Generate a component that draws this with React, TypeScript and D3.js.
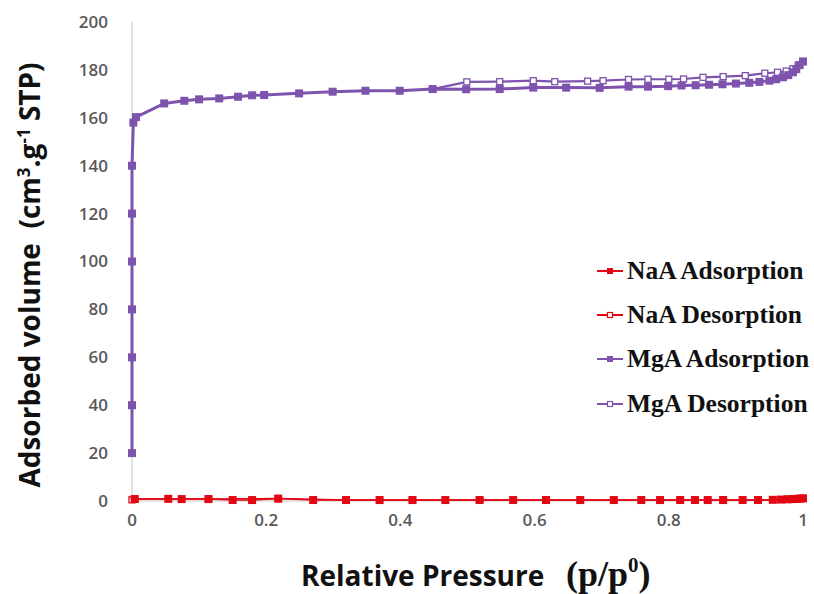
import React from "react";
import * as d3 from "d3";

// ---- data ----
const mgaAdsX = [0, 0, 0, 0, 0, 0, 0, 0.002, 0.006, 0.048, 0.078, 0.1, 0.13, 0.158, 0.179, 0.197, 0.249, 0.299, 0.348, 0.399, 0.448, 0.498, 0.548, 0.598, 0.647, 0.697, 0.74, 0.769, 0.799, 0.819, 0.84, 0.86, 0.88, 0.9, 0.92, 0.935, 0.95, 0.96, 0.97, 0.978, 0.985, 0.99, 0.995, 1.0];
const mgaAdsY = [20, 40, 60, 80, 100, 120, 140, 158, 160.3, 166, 167.1, 167.7, 168.1, 168.8, 169.4, 169.5, 170.2, 170.9, 171.3, 171.3, 172, 171.9, 172, 172.6, 172.6, 172.5, 173, 173, 173.2, 173.5, 173.6, 173.8, 174, 174.3, 174.6, 175, 175.5, 176.1, 176.9, 177.8, 179, 180.3, 182, 183.5];

const mgaDesX = [1.0, 0.993, 0.985, 0.975, 0.962, 0.943, 0.914, 0.881, 0.851, 0.822, 0.8, 0.769, 0.74, 0.702, 0.679, 0.63, 0.598, 0.548, 0.499, 0.448];
const mgaDesY = [183.5, 182, 180.5, 179.5, 179, 178.6, 177.6, 177.2, 176.9, 176.2, 176.1, 176.1, 176, 175.5, 175.3, 175.1, 175.5, 175.1, 175, 172];

const naaAdsX = [0.004, 0.054, 0.074, 0.114, 0.15, 0.179, 0.218, 0.27, 0.319, 0.369, 0.418, 0.467, 0.518, 0.568, 0.617, 0.668, 0.718, 0.759, 0.787, 0.817, 0.839, 0.858, 0.881, 0.91, 0.933, 0.955, 0.967, 0.977, 0.985, 0.991, 0.996, 1.0];
const naaAdsY = [0.8, 0.9, 0.8, 0.8, 0.4, 0.4, 1.0, 0.4, 0.4, 0.4, 0.4, 0.4, 0.4, 0.4, 0.4, 0.4, 0.4, 0.4, 0.4, 0.4, 0.4, 0.4, 0.4, 0.4, 0.4, 0.5, 0.6, 0.7, 0.8, 0.9, 1.0, 1.1];

const naaDesX = [1.0, 0.991, 0.977, 0.933, 0.881, 0.817, 0.718, 0.617, 0.518, 0.418, 0.319, 0.218, 0.114, 0.004, 0];
const naaDesY = [1.1, 0.9, 0.7, 0.4, 0.4, 0.4, 0.4, 0.4, 0.4, 0.4, 0.4, 1.0, 0.8, 0.8, 0.5];

const xTicks = [0, 0.2, 0.4, 0.6, 0.8, 1];
const xTickLabels = ["0", "0.2", "0.4", "0.6", "0.8", "1"];
const yTicks = [0, 20, 40, 60, 80, 100, 120, 140, 160, 180, 200];

const legendLabels = ["NaA Adsorption", "NaA Desorption", "MgA Adsorption", "MgA Desorption"];

const RED = "#e30613";
const PURPLE = "#7d53ae";

export default function App() {
  const x = d3.scaleLinear().domain([0, 1]).range([132, 803]);
  const y = d3.scaleLinear().domain([0, 200]).range([501, 22]);

  const line = d3
    .line<[number, number]>()
    .x((d) => x(d[0]))
    .y((d) => y(d[1]));

  const zip = (xs: number[], ys: number[]) => xs.map((v, i) => [v, ys[i]] as [number, number]);

  const naaAds = zip(naaAdsX, naaAdsY);
  const naaDes = zip(naaDesX, naaDesY);
  const mgaAds = zip(mgaAdsX, mgaAdsY);
  const mgaDes = zip(mgaDesX, mgaDesY);

  const sqFilled = (pts: [number, number][], color: string, s: number, key: string) =>
    pts.map((p, i) => (
      <rect key={key + i} x={x(p[0]) - s / 2} y={y(p[1]) - s / 2} width={s} height={s} fill={color} />
    ));
  const sqOpen = (pts: [number, number][], color: string, s: number, key: string) =>
    pts.map((p, i) => (
      <rect
        key={key + i}
        x={x(p[0]) - s / 2}
        y={y(p[1]) - s / 2}
        width={s}
        height={s}
        fill="#fff"
        stroke={color}
        strokeWidth={1.3}
      />
    ));

  const legendY = [271, 315, 359, 404];

  return (
    <svg
      width={814}
      height={594}
      style={{ position: "absolute", left: 0, top: 0, background: "#fff" }}
      xmlns="http://www.w3.org/2000/svg"
    >
      <rect width={814} height={594} fill="#fff" />
      {/* axes */}
      <line x1={132} x2={132} y1={y(200)} y2={y(0)} stroke="#d9d9d9" strokeWidth={1.5} />
      <line x1={132} x2={803} y1={y(0)} y2={y(0)} stroke="#d9d9d9" strokeWidth={1.5} />

      {/* y tick labels */}
      {yTicks.map((t) => (
        <text
          key={"yt" + t}
          x={108}
          y={y(t)}
          dy="0.35em"
          textAnchor="end"
          fontFamily="'Open Sans', sans-serif"
          fontWeight={600}
          fontSize={17}
          fill="#595959"
        >
          {t}
        </text>
      ))}
      {/* x tick labels */}
      {xTicks.map((t, i) => (
        <text
          key={"xt" + t}
          x={x(t)}
          y={520}
          dy="0.35em"
          textAnchor="middle"
          fontFamily="'Open Sans', sans-serif"
          fontWeight={600}
          fontSize={17}
          fill="#595959"
        >
          {xTickLabels[i]}
        </text>
      ))}

      {/* series */}
      <path d={line(naaDes) || ""} fill="none" stroke={RED} strokeWidth={1.5} />
      {sqOpen(naaDes, RED, 6, "nd")}
      <path d={line(naaAds) || ""} fill="none" stroke={RED} strokeWidth={1.5} />
      {sqFilled(naaAds, RED, 8, "na")}

      <path d={line(mgaDes) || ""} fill="none" stroke={PURPLE} strokeWidth={2.2} />
      {sqOpen(mgaDes, PURPLE, 6, "md")}
      <path d={line(mgaAds) || ""} fill="none" stroke={PURPLE} strokeWidth={3} />
      {sqFilled(mgaAds, PURPLE, 8, "ma")}

      {/* legend */}
      {legendLabels.map((lab, i) => {
        const ly = legendY[i];
        const color = i < 2 ? RED : PURPLE;
        const filled = i % 2 === 0;
        return (
          <g key={"lg" + i}>
            <line x1={597} x2={623} y1={ly} y2={ly} stroke={color} strokeWidth={2} />
            {filled ? (
              <rect x={610 - 3} y={ly - 3} width={6} height={6} fill={color} />
            ) : (
              <rect x={610 - 2.5} y={ly - 2.5} width={5} height={5} fill="#fff" stroke={color} strokeWidth={1.2} />
            )}
            <text
              x={627}
              y={ly}
              dy="0.33em"
              fontFamily="'Liberation Serif', 'Times New Roman', serif"
              fontWeight={700}
              fontSize={25.5}
              fill="#111"
            >
              {lab}
            </text>
          </g>
        );
      })}

      {/* y axis title */}
      <text
        transform="translate(40,275) rotate(-90)"
        textAnchor="middle"
        fontFamily="'Open Sans', sans-serif"
        fontWeight={700}
        fontSize={28}
        fill="#111"
      >
        Adsorbed volume{"\u00a0\u00a0"}(cm
        <tspan dy={-10} fontSize={17}>3</tspan>
        <tspan dy={10}>.g</tspan>
        <tspan dy={-10} fontSize={17}>-1</tspan>
        <tspan dy={10}> STP)</tspan>
      </text>

      {/* x axis title */}
      <text
        x={301}
        y={586}
        fontFamily="'Open Sans', sans-serif"
        fontWeight={700}
        fontSize={28}
        fill="#111"
      >
        Relative Pressure
      </text>
      <text
        x={566}
        y={586}
        fontFamily="'Liberation Serif', 'Times New Roman', serif"
        fontWeight={700}
        fontSize={36}
        fill="#111"
      >
        (p/p<tspan dy={-14} fontSize={21}>0</tspan>
        <tspan dy={14}>)</tspan>
      </text>
    </svg>
  );
}
